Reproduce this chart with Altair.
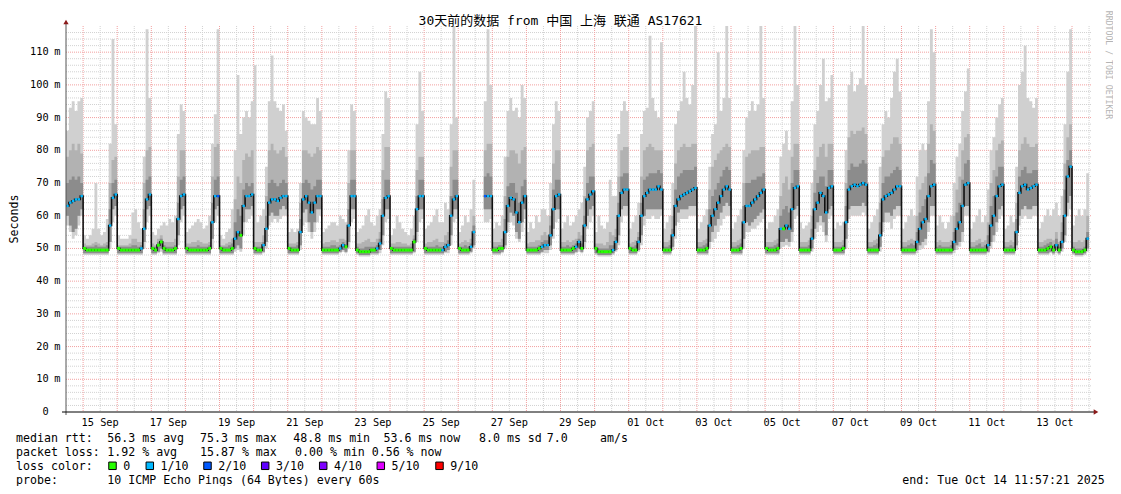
import altair as alt
import pandas as pd

# ---------------- data (2-hour bins, 12 per day from 00:00; first day starts 12:00, last day ends 12:00) ----
MED = [
    [63, 64, 64.5, 65, 65, 66],
    [50, 49.5, 49.5, 49.5, 49.5, 49.5, 49.5, 49.5, 49.5, 57, 65.5, 66.5],
    [50, 49.5, 49.5, 49.5, 49.5, 49.5, 49.5, 49.5, 50, 56, 65, 66.5],
    [50, 49.5, 51, 52, 50, 49.5, 49.5, 49.5, 50, 59, 66, 66.5],
    [50, 49.5, 49.5, 49.5, 49.5, 49.5, 49.5, 49.5, 50, 58, 66, 66],
    [50, 49.5, 49.5, 49.5, 50, 53, 55, 54, 63, 66, 66, 66.5],
    [50, 49.5, 49.5, 51, 56, 64, 65, 65, 64.5, 65.5, 66, 66],
    [50, 49.5, 49.5, 49.5, 55, 65, 66, 64, 61, 64, 66, 66],
    [49.5, 49.5, 49.5, 49.5, 49.5, 49.5, 50, 51, 50.5, 57, 66, 66],
    [49.5, 49, 49, 49, 49, 49.5, 49.5, 50, 51.5, 60, 65.5, 66],
    [50, 49.5, 49.5, 49.5, 49.5, 49.5, 49.5, 49.5, 52, 62, 66, 66],
    [50, 49.5, 49.5, 49.5, 49.5, 49.5, 49.5, 50.5, 51, 60, 65, 66],
    [50, 49.5, 49.5, 49.5, 50.5, 55, None, None, None, 66, 66, 66],
    [49.5, 49.5, 50, 50, 55, 63, 65.5, 65, 61, 58, 64, 66],
    [49.5, 49.5, 49.5, 49.5, 50, 50.5, 51, 51, 54, 62, 66, 66.5],
    [49.5, 49.5, 49.5, 49.5, 50, 50.5, 52, 50, 57, 65, 66.5, 67.5],
    [50, 49, 49, 49, 49, 49, 49.5, 52, 60, 67, 68, 68],
    [50, 49.5, 49.5, 52, 60, 66, 67, 68, 68, 68, 69, 68],
    [49.5, 49.5, 49.5, 54, 63, 65, 66, 66.5, 67, 67.5, 68, 68.5],
    [49.5, 49.5, 49.5, 50, 57, 60, 62, 64, 66, 68, 69, 68],
    [49.5, 49.5, 49.5, 50, 58, 63, 63, 64, 65, 66, 67, 68],
    [50, 49.5, 49.5, 49.5, 50, 56, 56, 57, 56, 62, 68.5, 69],
    [49.5, 49.5, 49.5, 49.5, 53, 62, 64, 67, 66, 61, 68.5, 69],
    [49.5, 49.5, 49.5, 50, 58, 68, 69, 69.5, 69, 69.5, 70, 69.5],
    [49.5, 49.5, 49.5, 49.5, 54, 65, 66, 66.5, 67, 68, 69, 69],
    [49.5, 49.5, 49.5, 49.5, 49.5, 52, 56, 58, 59, 66, 69, 69.5],
    [49.5, 49.5, 49.5, 49.5, 49.5, 49.5, 52, 56, 58, 63, 69.5, 70],
    [49.5, 49.5, 49.5, 49.5, 49.5, 49.5, 51, 57, 60, 66, 69, 69.5],
    [49.5, 49.5, 49.5, 49.5, 55, 67, 69, 69.5, 68, 68.5, 69, 69.5],
    [49.5, 49.5, 49.5, 50, 50.5, 49.5, 51, 49.5, 52, 60, 72, 75],
    [49.5, 49, 49, 49, 49.5, 53],
]

TOP = [
    [86, 93, 95, 92, 95, 96],
    [54, 53, 54, 56, 70, 56, 54, 55, 59, 82, 114, 88],
    [54, 53, 53, 53, 54, 61, 62, 58, 56, 78, 117, 96],
    [55, 54, 56, 57, 58, 57, 59, 58, 60, 85, 94, 92],
    [55, 56, 57, 58, 59, 58, 56, 57, 60, 82, 91, 117],
    [54, 53, 55, 56, 62, 80, 103, 85, 90, 92, 90, 95],
    [106, 58, 60, 62, 75, 95, 109, 95, 93, 92, 94, 86],
    [55, 56, 55, 56, 70, 92, 90, 89, 88, 88, 96, 92],
    [55, 56, 57, 58, 58, 57, 60, 59, 58, 80, 94, 92],
    [55, 56, 57, 60, 62, 58, 57, 60, 62, 85, 98, 96],
    [54, 56, 60, 58, 56, 55, 54, 56, 60, 88, 104, 92],
    [56, 57, 58, 60, 62, 58, 58, 64, 62, 88, 118, 90],
    [55, 57, 60, 58, 62, 71, None, None, None, 95, 117, 100],
    [56, 58, 57, 60, 78, 92, 96, 92, 93, 90, 100, 96],
    [55, 58, 56, 60, 58, 62, 62, 60, 70, 88, 95, 92],
    [56, 58, 60, 57, 58, 60, 62, 64, 75, 90, 92, 95],
    [55, 60, 57, 56, 58, 71, 66, 66, 85, 92, 95, 92],
    [56, 58, 60, 64, 85, 92, 93, 115, 96, 92, 90, 113],
    [56, 58, 60, 70, 88, 92, 95, 104, 96, 94, 100, 118],
    [56, 58, 60, 62, 75, 85, 88, 110, 92, 96, 118, 96],
    [56, 58, 60, 62, 80, 90, 92, 95, 92, 94, 118, 96],
    [56, 58, 58, 60, 62, 78, 82, 86, 80, 95, 118, 100],
    [58, 56, 57, 58, 70, 88, 92, 100, 108, 95, 96, 103],
    [56, 58, 57, 58, 80, 100, 104, 98, 100, 102, 118, 100],
    [56, 58, 60, 62, 75, 88, 92, 90, 96, 104, 108, 98],
    [56, 58, 60, 62, 60, 72, 80, 82, 80, 95, 117, 110],
    [57, 60, 58, 56, 58, 60, 70, 78, 82, 92, 98, 105],
    [56, 58, 60, 62, 58, 60, 68, 80, 84, 90, 94, 96],
    [56, 57, 60, 58, 75, 100, 104, 112, 96, 95, 93, 96],
    [56, 58, 60, 62, 60, 62, 64, 60, 66, 88, 104, 117],
    [57, 60, 62, 60, 62, 73],
]

MID = [
    [78, 80, 82, 80, 82, 79],
    [51.5, 51, 51, 51.5, 52, 51.5, 51, 51.5, 52, 70, 77, 78],
    [51, 51, 51, 51, 51.5, 53, 53, 52, 52, 70, 80, 81],
    [51.5, 51, 53, 54, 52, 52, 52, 52, 53, 72, 80, 80],
    [51.5, 51.5, 52, 52, 52.5, 52, 51.5, 51.5, 52, 72, 81, 82],
    [51, 51, 51.5, 52, 53, 65, 72, 70, 77, 79, 78, 80],
    [52, 52, 52, 54, 66, 80, 82, 80, 79, 80, 81, 78],
    [51.5, 51.5, 51.5, 52, 64, 80, 80, 79, 78, 79, 81, 80],
    [51.5, 52, 52, 52.5, 52.5, 52, 53, 53, 52.5, 70, 80, 80],
    [51.5, 51.5, 52, 52.5, 53, 52, 52, 53, 55, 74, 81, 81],
    [51.5, 51.5, 52, 52, 51.5, 51.5, 51, 51.5, 54, 74, 78, 78],
    [51.5, 52, 52, 52.5, 53, 52, 52, 54, 55, 75, 80, 80],
    [51.5, 52, 52.5, 52, 53, 60, None, None, None, 80, 82, 82],
    [52, 52, 52, 53, 66, 78, 80, 80, 79, 76, 80, 81],
    [51.5, 52, 52, 52.5, 52.5, 54, 55, 54, 60, 76, 80, 80],
    [52, 52, 52.5, 52, 52.5, 53, 55, 54, 66, 80, 81, 82],
    [51.5, 51.5, 51.5, 51, 52, 55, 54, 56, 72, 80, 81, 81],
    [51.5, 52, 52.5, 55, 72, 80, 81, 82, 81, 80, 80, 80],
    [52, 52, 52.5, 60, 76, 80, 81, 82, 81, 81, 82, 82],
    [52, 52, 52.5, 53, 68, 75, 77, 79, 80, 81, 82, 81],
    [52, 52, 52.5, 53, 70, 78, 79, 80, 80, 80, 81, 81],
    [52, 52, 52, 52.5, 53, 66, 70, 72, 68, 78, 82, 82],
    [52, 52, 52, 52.5, 60, 74, 78, 81, 82, 78, 82, 82],
    [52, 52, 52, 52.5, 70, 84, 86, 85, 86, 86, 87, 85],
    [52, 52, 52.5, 53, 64, 78, 80, 80, 82, 84, 84, 82],
    [52, 52, 52.5, 53, 52.5, 60, 68, 70, 72, 82, 88, 86],
    [52, 52.5, 52, 52, 52, 52.5, 60, 68, 72, 80, 84, 85],
    [52, 52, 52.5, 53, 52, 52.5, 58, 70, 74, 80, 82, 83],
    [52, 52, 52.5, 52, 64, 80, 82, 84, 82, 81, 81, 82],
    [52, 52, 52.5, 53, 53, 52.5, 55, 52, 58, 76, 84, 88],
    [52, 52, 52.5, 52, 52.5, 60],
]

DRK = [
    [70, 71, 72, 71, 72, 70],
    [50.5, 50.5, 50.5, 50.5, 51, 50.5, 50.5, 50.5, 51, 62, 70, 71],
    [50.5, 50.5, 50.5, 50.5, 50.5, 51, 51, 50.5, 51, 62, 71, 72],
    [50.5, 50.5, 52, 53, 51, 50.5, 50.5, 50.5, 51, 64, 71, 72],
    [50.5, 50.5, 50.5, 50.5, 51, 50.5, 50.5, 50.5, 51, 64, 71, 72],
    [50.5, 50.5, 50.5, 51, 51.5, 58, 62, 60, 68, 70, 69, 70],
    [50.5, 50.5, 50.5, 52, 60, 70, 71, 70, 69, 70, 71, 70],
    [50.5, 50.5, 50.5, 51, 59, 70, 71, 70, 68, 69, 71, 71],
    [50.5, 50.5, 50.5, 51, 51, 50.5, 51, 52, 51, 62, 71, 71],
    [50.5, 50, 50, 50.5, 50.5, 50.5, 50.5, 51, 53, 65, 71, 71],
    [50.5, 50.5, 50.5, 50.5, 50.5, 50.5, 50.5, 50.5, 53, 66, 71, 71],
    [50.5, 50.5, 50.5, 50.5, 51, 50.5, 50.5, 51.5, 52.5, 66, 71, 71],
    [50.5, 50.5, 51, 50.5, 51.5, 57, None, None, None, 72, 73, 72],
    [50.5, 50.5, 51, 51, 59, 69, 70, 70, 67, 64, 69, 71],
    [50.5, 50.5, 50.5, 50.5, 51, 52, 52.5, 52.5, 57, 68, 71, 71],
    [50.5, 50.5, 51, 50.5, 51, 51.5, 53, 51.5, 60, 70, 72, 72],
    [50.5, 50, 50, 50, 50, 51, 51, 53.5, 64, 72, 73, 73],
    [50.5, 50.5, 51, 53.5, 64, 71, 72, 73, 73, 73, 74, 73],
    [50.5, 50.5, 51, 56, 68, 72, 73, 74, 74, 74, 74, 75],
    [50.5, 50.5, 51, 51.5, 62, 66, 68, 70, 72, 74, 75, 74],
    [50.5, 50.5, 51, 51.5, 63, 70, 70, 71, 71, 72, 72, 73],
    [50.5, 50.5, 50.5, 51, 51.5, 60, 62, 63, 61, 70, 74, 74],
    [50.5, 50.5, 50.5, 51, 56, 67, 70, 72, 72, 69, 74, 74],
    [50.5, 50.5, 50.5, 51, 63, 74, 76, 75, 75, 76, 77, 76],
    [50.5, 50.5, 51, 51.5, 58, 70, 72, 72, 73, 74, 75, 74],
    [50.5, 50.5, 51, 51.5, 51, 55, 61, 63, 65, 73, 77, 76],
    [50.5, 51, 50.5, 50.5, 50.5, 51, 55, 61, 64, 71, 76, 77],
    [50.5, 50.5, 51, 51.5, 50.5, 51, 54, 63, 66, 72, 75, 75],
    [50.5, 50.5, 51, 50.5, 59, 72, 74, 75, 73, 73, 74, 74],
    [50.5, 50.5, 51, 51.5, 52, 51, 53, 50.5, 55, 68, 77, 80],
    [50.5, 50, 50, 50, 50.5, 55],
]

LOW = [
    [60, 57, 55, 56, 60, 62],
    [48.5, 48.5, 48.5, 48.5, 48.5, 48.5, 48.5, 48.5, 48.5, 52, 62, 63],
    [48.5, 48.5, 48.5, 48.5, 48.5, 48.5, 48.5, 48.5, 48.5, 52, 62, 63],
    [48.5, 48.5, 49, 50, 48.5, 48.5, 48.5, 48.5, 48.5, 54, 62, 63],
    [48.5, 48.5, 48.5, 48.5, 48.5, 48.5, 48.5, 48.5, 48.5, 53, 62, 63],
    [48.5, 48.5, 48.5, 48.5, 48.5, 50, 51, 50, 58, 62, 62, 63],
    [48.5, 48.5, 48.5, 49, 52, 60, 61, 60, 60, 62, 63, 62],
    [48.5, 48.5, 48.5, 48.5, 51, 61, 62, 58, 55, 58, 62, 62],
    [48.5, 48.5, 48.5, 48.5, 48.5, 48.5, 49, 49.5, 49, 52, 62, 62],
    [48.5, 48, 48, 48, 48, 48.5, 48.5, 48.5, 49.5, 54, 62, 62],
    [48.5, 48.5, 48.5, 48.5, 48.5, 48.5, 48.5, 48.5, 49, 55, 62, 62],
    [48.5, 48.5, 48.5, 48.5, 48.5, 48.5, 48.5, 49, 49.5, 54, 62, 62],
    [48.5, 48.5, 48.5, 48.5, 49, 51, None, None, None, 62, 62, 62],
    [48.5, 48.5, 48.5, 49, 51, 58, 61, 60, 55, 53, 58, 62],
    [48.5, 48.5, 48.5, 48.5, 48.5, 49, 49.5, 49.5, 51, 56, 62, 62],
    [48.5, 48.5, 48.5, 48.5, 48.5, 49, 50, 49, 52, 60, 62, 63],
    [48.5, 48, 48, 48, 48, 48, 48.5, 49.5, 54, 62, 63, 63],
    [48.5, 48.5, 48.5, 49.5, 54, 60, 62, 62, 62, 62, 62, 62],
    [48.5, 48.5, 48.5, 50.5, 57, 61, 62, 62, 62, 63, 63, 63],
    [48.5, 48.5, 48.5, 48.5, 52, 55, 57, 59, 61, 63, 64, 63],
    [48.5, 48.5, 48.5, 48.5, 53, 58, 57, 58, 59, 60, 61, 62],
    [48.5, 48.5, 48.5, 48.5, 48.5, 52, 52, 53, 52, 55, 62, 63],
    [48.5, 48.5, 48.5, 48.5, 50, 56, 58, 60, 58, 54, 62, 63],
    [48.5, 48.5, 48.5, 48.5, 53, 62, 63, 63, 63, 63, 64, 63],
    [48.5, 48.5, 48.5, 48.5, 50.5, 58, 61, 61, 60, 62, 63, 63],
    [48.5, 48.5, 48.5, 48.5, 48.5, 49.5, 51, 52, 53, 58, 63, 63],
    [48.5, 48.5, 48.5, 48.5, 48.5, 48.5, 49.5, 51, 52, 55, 63, 63],
    [48.5, 48.5, 48.5, 48.5, 48.5, 48.5, 49, 52, 54, 58, 62, 63],
    [48.5, 48.5, 48.5, 48.5, 51, 60, 62, 63, 62, 62, 63, 63],
    [48.5, 48.5, 48.5, 48.5, 49, 48.5, 49.5, 48.5, 50, 54, 64, 66],
    [48.5, 48, 48, 48, 48.5, 50],
]

BOT = [
    [57, 55, 53, 54, 57, 60],
    [48, 48, 48, 48, 48, 48, 48, 48, 48, 50, 58, 60],
    [48, 48, 48, 48, 48, 48, 48, 48, 48, 50, 58, 60],
    [48, 48, 48.5, 49, 48, 48, 48, 48, 48, 51, 58, 60],
    [48, 48, 48, 48, 48, 48, 48, 48, 48, 50, 58, 60],
    [48, 48, 48, 48, 48, 49, 49.5, 49, 54, 58, 59, 60],
    [48, 48, 48, 48.5, 50, 57, 58, 59, 58, 59, 60, 60],
    [48, 48, 48, 48, 49.5, 57, 58, 55, 53, 55, 58, 60],
    [48, 48, 48, 48, 48, 48, 48.5, 49, 48.5, 50, 58, 59],
    [48, 47.5, 47.5, 47.5, 47.5, 48, 48, 48, 48.5, 51, 58, 59],
    [48, 48, 48, 48, 48, 48, 48, 48, 48.5, 52, 58, 59],
    [48, 48, 48, 48, 48, 48, 48, 48.5, 48.5, 51, 58, 59],
    [48, 48, 48, 48, 48.5, 50, None, None, None, 58, 58, 59],
    [48, 48, 48, 48.5, 50, 55, 58, 57, 53, 52, 55, 59],
    [48, 48, 48, 48, 48, 48.5, 48.5, 48.5, 49.5, 53, 58, 59],
    [48, 48, 48, 48, 48, 48.5, 49, 48.5, 50, 56, 58, 60],
    [48, 47.5, 47.5, 47.5, 47.5, 47.5, 48, 49, 51, 58, 60, 60],
    [48, 48, 48, 49, 51, 57, 59, 59, 60, 59, 59, 60],
    [48, 48, 48, 49.5, 53, 58, 59, 59, 59, 60, 60, 60],
    [48, 48, 48, 48, 50, 52, 53, 55, 57, 59, 60, 60],
    [48, 48, 48, 48, 50, 55, 55, 56, 56, 57, 58, 59],
    [48, 48, 48, 48, 48, 50, 50.5, 51, 50.5, 52, 59, 60],
    [48, 48, 48, 48, 49, 53, 55, 57, 55, 52, 59, 60],
    [48, 48, 48, 48, 50, 59, 60, 60, 60, 60, 61, 60],
    [48, 48, 48, 48, 49, 55, 58, 58, 56, 59, 60, 60],
    [48, 48, 48, 48, 48, 48.5, 49.5, 50, 51, 55, 60, 60],
    [48, 48, 48, 48, 48, 48, 48.5, 49.5, 50.5, 52, 60, 60],
    [48, 48, 48, 48, 48, 48, 48.5, 50, 52, 55, 59, 60],
    [48, 48, 48, 48, 49.5, 57, 59, 60, 59, 59, 60, 60],
    [48, 48, 48, 48, 48.5, 48, 48.5, 48, 49, 52, 60, 62],
    [48, 47.5, 47.5, 47.5, 48, 49],
]

LOSS = [
    [1, 1, 1, 1, 1, 1],
    [0, 0, 0, 0, 0, 0, 0, 0, 0, 1, 1, 1],
    [0, 0, 0, 0, 0, 0, 0, 0, 1, 1, 1, 1],
    [0, 0, 0, 0, 0, 0, 0, 0, 0, 1, 1, 1],
    [0, 0, 0, 0, 0, 0, 0, 0, 0, 1, 1, 2],
    [0, 0, 0, 0, 0, 1, 1, 0, 1, 1, 1, 1],
    [0, 0, 0, 1, 1, 1, 1, 1, 1, 1, 1, 1],
    [0, 0, 0, 0, 1, 1, 1, 1, 1, 1, 1, 1],
    [0, 0, 0, 0, 0, 0, 1, 1, 0, 1, 1, 1],
    [0, 0, 0, 0, 0, 0, 0, 1, 1, 1, 1, 1],
    [0, 0, 0, 0, 0, 0, 0, 0, 0, 1, 1, 1],
    [0, 0, 0, 0, 0, 0, 1, 1, 1, 1, 1, 1],
    [0, 0, 0, 0, 1, 1, None, None, None, 2, 1, 1],
    [0, 0, 0, 0, 1, 1, 1, 1, 1, 1, 1, 1],
    [0, 0, 0, 0, 0, 1, 1, 1, 1, 1, 1, 1],
    [0, 0, 0, 0, 0, 1, 1, 0, 1, 1, 1, 1],
    [0, 0, 0, 0, 0, 0, 1, 1, 1, 1, 1, 1],
    [0, 0, 0, 1, 1, 1, 1, 1, 1, 1, 1, 1],
    [0, 0, 0, 1, 1, 1, 1, 1, 1, 1, 1, 1],
    [0, 0, 0, 0, 1, 1, 1, 1, 1, 1, 1, 1],
    [0, 0, 0, 0, 1, 1, 1, 1, 1, 1, 1, 1],
    [0, 0, 0, 0, 0, 1, 0, 1, 1, 1, 1, 1],
    [0, 0, 0, 0, 1, 1, 1, 1, 1, 1, 1, 1],
    [0, 0, 0, 0, 1, 1, 1, 1, 1, 1, 1, 1],
    [0, 0, 0, 0, 1, 1, 1, 1, 1, 1, 1, 1],
    [0, 0, 0, 0, 0, 1, 1, 1, 1, 1, 1, 1],
    [0, 0, 0, 0, 0, 0, 1, 1, 1, 1, 1, 1],
    [0, 0, 0, 0, 0, 0, 1, 1, 1, 1, 1, 1],
    [0, 0, 0, 0, 1, 1, 1, 1, 1, 1, 1, 1],
    [0, 0, 0, 0, 0, 0, 1, 0, 1, 1, 1, 1],
    [0, 0, 0, 0, 0, 1],
]

LOSS_CODES = [0, 1, 2, 3, 4, 5, 9]
LOSS_LABELS = ["0", "1/10", "2/10", "3/10", "4/10", "5/10", "9/10"]
LOSS_COLORS = ["#26ff00", "#00b8ff", "#0059ff", "#5e00ff", "#7e00ff", "#dd00ff", "#ff0000"]

Y_TICKS = [0, 10, 20, 30, 40, 50, 60, 70, 80, 90, 100, 110]
X_LABEL_DAYS = [1, 3, 5, 7, 9, 11, 13, 15, 17, 19, 21, 23, 25, 27, 29]   # days after 2025-09-14, labelled at noon

TITLE = "30天前的数据 from 中国 上海 联通 AS17621"
STATS_RTT = ["median rtt:", "56.3 ms avg", "75.3 ms max", "48.8 ms min", "53.6 ms now", "8.0 ms sd", "7.0", "am/s"]
STATS_LOSS = ["packet loss:", "1.92 % avg", "15.87 % max", "0.00 % min", "0.56 % now"]
PROBE = ["probe:", "10 ICMP Echo Pings (64 Bytes) every 60s"]
END_TEXT = "end: Tue Oct 14 11:57:21 2025"

# ---------------- layout ----------------
W, H = 1026, 386
OX, OY = 66, 26                     # page position of the plot origin
START_H = 11 + 57 / 60 + 21 / 3600  # hours after 2025-09-14 00:00
END_H = START_H + W / 34.1 * 24
Y_MAX = 118
MONO = "DejaVu Sans Mono"
MONO_CJK = "DejaVu Sans Mono, Noto Sans CJK SC"

# ---------------- build tables ----------------
rows, seg, in_gap = [], 0, False
for d in range(len(MED)):
    first = 12 if d == 0 else 0
    for k in range(len(MED[d])):
        m = MED[d][k]
        if m is None:
            if rows and not in_gap:
                seg += 1
            in_gap = True
            continue
        in_gap = False
        h = d * 24 + first + 2 * k
        rows.append(dict(h=h, h2=h + 2, hc=h + 1, seg=seg, med=m, top=TOP[d][k], mid=MID[d][k],
                         drk=DRK[d][k], low=LOW[d][k], bot=BOT[d][k], loss=LOSS[d][k]))
df = pd.DataFrame(rows)
ends = df.groupby("seg").tail(1).copy()
ends["h"] = ends["h2"]
dfa = pd.concat([df, ends]).sort_values(["seg", "h"]).reset_index(drop=True)

xs = alt.Scale(domain=[START_H, END_H], nice=False, zero=False)
ys = alt.Scale(domain=[0, Y_MAX], nice=False, zero=True)


def X(field):
    return alt.X(field, scale=xs, axis=None)


def Y(field):
    return alt.Y(field, scale=ys, axis=None)


# grid
vmaj = pd.DataFrame({"h": [24 * i for i in range(1, 31)]})
vmin = pd.DataFrame({"h": [24 * i + 12 for i in range(1, 31)]})
hmin = pd.DataFrame({"v": [v for v in range(2, Y_MAX, 2) if v % 10]})
hmaj = pd.DataFrame({"v": list(range(10, Y_MAX, 10))})


def vgrid(data, color):
    return alt.Chart(data).mark_rule(color=color, strokeWidth=1, strokeDash=[1, 1]).encode(
        x=X("h:Q"), y=alt.value(0), y2=alt.value(H))


def hgrid(data, color):
    return alt.Chart(data).mark_rule(color=color, strokeWidth=1, strokeDash=[1, 1]).encode(
        y=Y("v:Q"), x=alt.value(0), x2=alt.value(W))


layers = [hgrid(hmin, "#d2d2d2"), vgrid(vmin, "#d2d2d2"), hgrid(hmaj, "#f2a0a0"), vgrid(vmaj, "#f2a0a0")]

light = alt.Chart(dfa).mark_area(interpolate="step-after", color="#d0d0d0", clip=True).encode(
    x=X("h:Q"), y=Y("top:Q"), y2="bot:Q", detail="seg:N")
midl = alt.Chart(dfa).mark_area(interpolate="step-after", color="#b2b2b2", clip=True).encode(
    x=X("h:Q"), y=Y("mid:Q"), y2="low:Q", detail="seg:N")
dark = alt.Chart(dfa).mark_area(interpolate="step-after", color="#8c8c8c", clip=True).encode(
    x=X("h:Q"), y=Y("drk:Q"), y2="low:Q", detail="seg:N")
medline = alt.Chart(dfa).mark_line(interpolate="step-after", color="#111111", strokeWidth=1.6, clip=True).encode(
    x=X("h:Q"), y=Y("med:Q"), detail="seg:N")
green = alt.Chart(df[df["loss"] == 0]).mark_rule(color=LOSS_COLORS[0], strokeWidth=3, clip=True).encode(
    x=X("h:Q"), x2="h2:Q", y=Y("med:Q"))
dots = alt.Chart(df[df["loss"] >= 1]).mark_square(size=6, opacity=1, clip=True).encode(
    x=X("hc:Q"), y=Y("med:Q"),
    color=alt.Color("loss:N", scale=alt.Scale(domain=LOSS_CODES, range=LOSS_COLORS), legend=None))
layers += [light, midl, dark, medline, green, dots]

# axis labels as text (number and unit in separate columns, like rrdtool)
xl = pd.DataFrame({"h": [24 * d + 12 for d in X_LABEL_DAYS],
                   "lab": [(pd.Timestamp("2025-09-14") + pd.Timedelta(days=d)).strftime("%d %b") for d in X_LABEL_DAYS]})
yl = pd.DataFrame({"v": Y_TICKS, "num": [str(v) for v in Y_TICKS], "unit": ["" if v == 0 else "m" for v in Y_TICKS]})
layers.append(alt.Chart(xl).mark_text(font=MONO, fontSize=10.3, align="center", baseline="alphabetic", color="#000").encode(
    x=X("h:Q"), y=alt.value(H + 13.7), text="lab:N"))
layers.append(alt.Chart(yl).mark_text(font=MONO, fontSize=10.3, align="right", baseline="middle", color="#000").encode(
    y=Y("v:Q"), x=alt.value(48.6 - OX), text="num:N"))
layers.append(alt.Chart(yl).mark_text(font=MONO, fontSize=10.3, align="left", baseline="middle", color="#000").encode(
    y=Y("v:Q"), x=alt.value(54.2 - OX), text="unit:N"))

one = pd.DataFrame({"a": [0]})
layers.append(alt.Chart(one).mark_rule(color="#555555", strokeWidth=1).encode(
    x=alt.value(0), y=alt.value(-2), y2=alt.value(H + 3)))
layers.append(alt.Chart(one).mark_rule(color="#000000", strokeWidth=1).encode(
    y=alt.value(H), x=alt.value(-4), x2=alt.value(W + 2)))
layers.append(alt.Chart(one).mark_point(shape="triangle-up", filled=True, size=28, color="#8b1a1a", opacity=1).encode(
    x=alt.value(0), y=alt.value(-4)))
layers.append(alt.Chart(one).mark_point(shape="triangle-right", filled=True, size=28, color="#8b1a1a", opacity=1).encode(
    x=alt.value(W + 4), y=alt.value(H)))


def txt(s, px, py, size=11.6, align="left", baseline="alphabetic", angle=0, color="#000000", font=MONO):
    return alt.Chart(one).mark_text(text=s, fontSize=size, font=font, align=align, baseline=baseline,
                                    angle=angle, color=color).encode(x=alt.value(px - OX), y=alt.value(py - OY))


layers.append(txt(TITLE, 560.5, 21, size=13, align="center", baseline="middle", font=MONO_CJK))
layers.append(txt("Seconds", 15, 219, size=11.6, align="center", baseline="middle", angle=270))
layers.append(txt("RRDTOOL / TOBI OETIKER", 1107.5, 65, size=8.2, align="center", baseline="middle",
                  angle=90, color="#b4b4b4"))

for s, px in zip(STATS_RTT, [16, 107.3, 200, 293.3, 383.5, 479, 546.7, 600]):
    layers.append(txt(s, px, 442))
for s, px in zip(STATS_LOSS, [16, 107.3, 200, 295, 371.7]):
    layers.append(txt(s, px, 456))
layers.append(txt("loss color:", 16, 470))
for lab, col, bx in zip(LOSS_LABELS, LOSS_COLORS, [112.5, 149.8, 207.5, 265.2, 323.2, 380.8, 439.5]):
    layers.append(alt.Chart(one).mark_square(size=56, color=col, opacity=1, stroke="#000000", strokeWidth=1).encode(
        x=alt.value(bx - OX), y=alt.value(465.8 - OY)))
    layers.append(txt(lab, bx + 10.8, 470))
for s, px in zip(PROBE, [16, 107.3]):
    layers.append(txt(s, px, 484))
layers.append(txt(END_TEXT, 902.3, 484))

chart = alt.layer(*layers).properties(
    width=W, height=H,
    padding={"left": OX - 8, "top": OY - 8, "right": 1113 - OX - W, "bottom": 486 - OY - H},
    autosize=alt.AutoSizeParams(type="none"),
    background="white",
).configure_view(stroke=None)

chart.save("out.html", embed_options={"renderer": "svg", "actions": False})
